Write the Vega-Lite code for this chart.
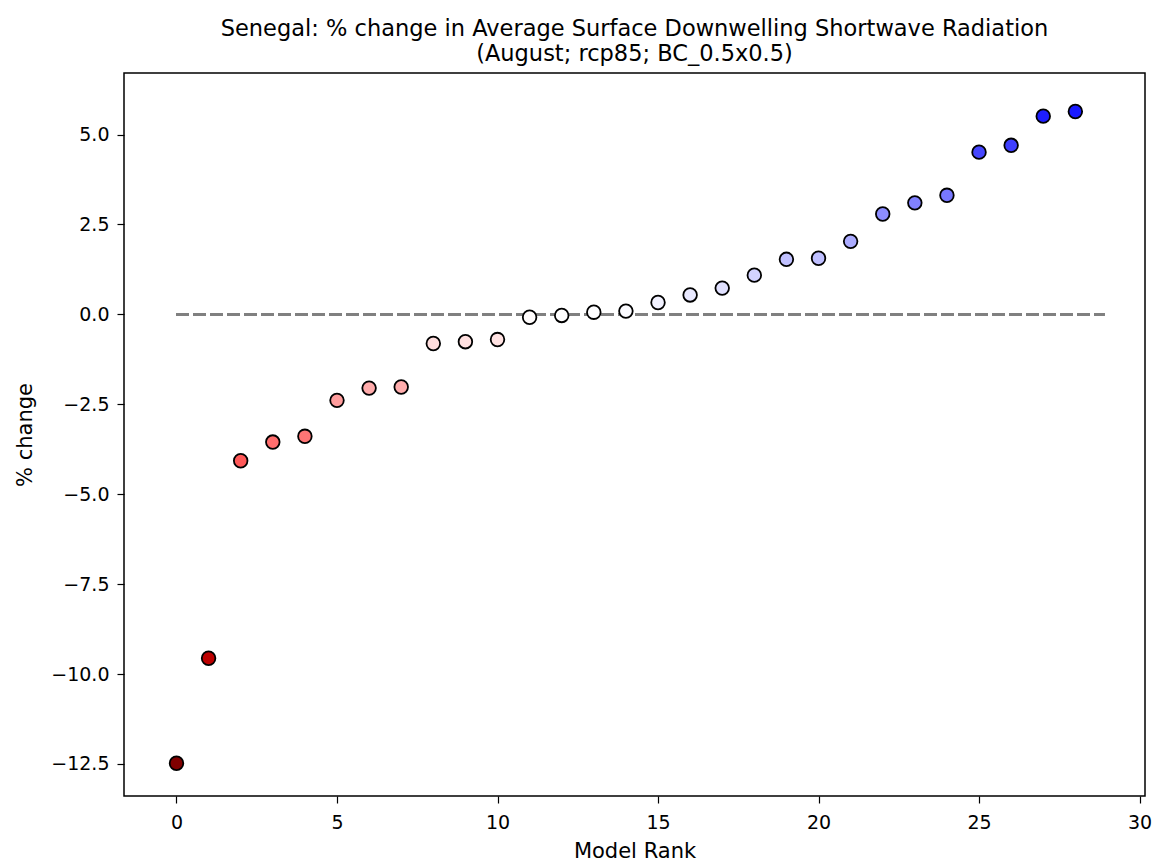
{
  "$schema": "https://vega.github.io/schema/vega-lite/v6.json",
  "width": 1021,
  "height": 723,
  "autosize": {"type": "none"},
  "padding": {"left": 124, "top": 73, "right": 12, "bottom": 65},
  "background": "white",
  "title": {
    "text": ["Senegal: % change in Average Surface Downwelling Shortwave Radiation", "(August; rcp85; BC_0.5x0.5)"],
    "anchor": "middle",
    "font": "DejaVu Sans",
    "fontSize": 22.5,
    "fontWeight": "normal",
    "color": "black",
    "lineHeight": 25,
    "offset": 8
  },
  "config": {
    "view": {"stroke": "black", "strokeWidth": 1.5},
    "axis": {
      "grid": false,
      "domain": false,
      "tickColor": "black",
      "tickSize": 7,
      "tickWidth": 1.2,
      "labelFont": "DejaVu Sans",
      "labelFontSize": 19,
      "labelColor": "black",
      "titleFont": "DejaVu Sans",
      "titleFontWeight": "normal",
      "titleColor": "black"
    }
  },
  "data": {
    "values": [
      {"rank": 0, "value": -12.48},
      {"rank": 1, "value": -9.56},
      {"rank": 2, "value": -4.07},
      {"rank": 3, "value": -3.55},
      {"rank": 4, "value": -3.39},
      {"rank": 5, "value": -2.39},
      {"rank": 6, "value": -2.05},
      {"rank": 7, "value": -2.02},
      {"rank": 8, "value": -0.81},
      {"rank": 9, "value": -0.76},
      {"rank": 10, "value": -0.7},
      {"rank": 11, "value": -0.08},
      {"rank": 12, "value": -0.03},
      {"rank": 13, "value": 0.06},
      {"rank": 14, "value": 0.09},
      {"rank": 15, "value": 0.33},
      {"rank": 16, "value": 0.54},
      {"rank": 17, "value": 0.73},
      {"rank": 18, "value": 1.09},
      {"rank": 19, "value": 1.53},
      {"rank": 20, "value": 1.56},
      {"rank": 21, "value": 2.03},
      {"rank": 22, "value": 2.79},
      {"rank": 23, "value": 3.1},
      {"rank": 24, "value": 3.31},
      {"rank": 25, "value": 4.51},
      {"rank": 26, "value": 4.7},
      {"rank": 27, "value": 5.51},
      {"rank": 28, "value": 5.64}
    ]
  },
  "layer": [
    {
      "mark": {"type": "rule", "color": "#808080", "strokeWidth": 2.5, "strokeDash": [12, 5]},
      "encoding": {
        "x": {"datum": 0, "type": "quantitative", "scale": {"domain": [-1.635, 30.17], "nice": false, "zero": false}},
        "x2": {"datum": 28.9},
        "y": {"datum": 0, "type": "quantitative", "scale": {"domain": [-13.39, 6.71], "nice": false, "zero": false}}
      }
    },
    {
      "mark": {"type": "point", "filled": true, "shape": "circle", "size": 185, "stroke": "black", "strokeWidth": 1.8, "opacity": 1},
      "encoding": {
        "x": {
          "field": "rank", "type": "quantitative",
          "scale": {"domain": [-1.635, 30.17], "nice": false, "zero": false},
          "axis": {"title": "Model Rank", "titleFontSize": 21, "values": [0, 5, 10, 15, 20, 25, 30], "format": "d", "labelPadding": 10, "titlePadding": 8}
        },
        "y": {
          "field": "value", "type": "quantitative",
          "scale": {"domain": [-13.39, 6.71], "nice": false, "zero": false},
          "axis": {"title": "% change", "titleFontSize": 21, "values": [-12.5, -10, -7.5, -5, -2.5, 0, 2.5, 5], "format": ".1f", "labelPadding": 8, "titlePadding": 15}
        },
        "fill": {
          "field": "value", "type": "quantitative",
          "scale": {"type": "linear", "domain": [-12.5, -6.25, 0, 6.25, 12.5], "range": ["#800000", "#ff0000", "#ffffff", "#0000ff", "#00004d"], "interpolate": "rgb"},
          "legend": null
        }
      }
    }
  ]
}
